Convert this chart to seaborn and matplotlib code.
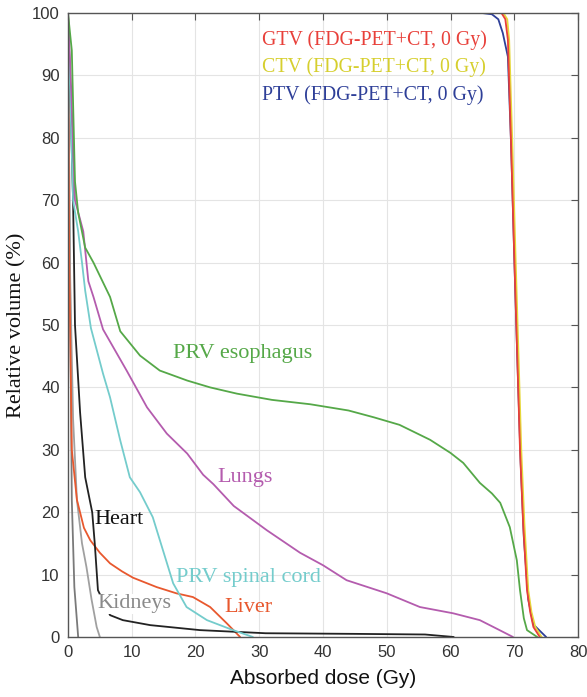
import matplotlib
matplotlib.use("Agg")
import matplotlib.pyplot as plt
import seaborn as sns
import pandas as pd

# dose-volume histogram data (dose in Gy, volume in %)
gtv_dose = [0, 68.0, 68.6, 69.0, 69.5, 70.0, 70.5, 70.9, 71.4, 72.0, 72.5, 73.0, 74.0]
gtv_vol = [100, 100, 99, 95.7, 79, 61, 44, 30, 18, 7.5, 4, 1.6, 0]

ctv_dose = [0, 68.3, 68.9, 69.2, 69.7, 70.2, 70.7, 71.1, 71.6, 72.2, 72.7, 73.3, 74.3]
ctv_vol = [100, 100, 99, 95.7, 79, 61, 44, 30, 18, 7.5, 4, 1.6, 0]

ptv_dose = [0, 65.0, 66.5, 67.5, 68.2, 69.0, 69.5, 70.0, 70.5, 71.0, 71.5, 72.2, 73.0, 75.0]
ptv_vol = [100, 100, 99.8, 99, 96.8, 93, 79, 61, 44, 28, 16, 6, 2, 0]

eso_dose = [0, 0.6, 1.1, 1.6, 2.7, 4, 6.6, 8.2, 11.3, 14.4, 18.7, 22.3, 26.5, 32, 38,
            44, 48, 52, 56.8, 60, 62, 64.6, 66.5, 67.8, 69.3, 70.4, 70.9, 71.5, 72.0, 73.6]
eso_vol = [100, 94, 73, 68, 62.4, 60, 54.5, 49, 45.1, 42.7, 41.1, 40, 39, 38, 37.3,
           36.3, 35.2, 34, 31.6, 29.5, 27.9, 24.7, 23, 21.5, 17.6, 12.3, 7.5, 3, 1.1, 0]

lung_dose = [0, 0.5, 1.1, 2.4, 3.2, 4, 5.5, 9.2, 12.4, 15.5, 18.7, 21.2, 22.8, 26, 31.2,
             36.4, 40, 43.7, 47, 50, 55.2, 60.4, 64.6, 67.5, 69.8]
lung_vol = [100, 88, 70, 65, 57, 54.5, 49.3, 42.7, 36.8, 32.6, 29.4, 26, 24.5, 21, 17.1,
            13.5, 11.5, 9.1, 8, 7, 4.8, 3.8, 2.7, 1.2, 0]

cord_dose = [0, 0.4, 0.8, 1.6, 2.2, 2.7, 3.6, 5.5, 6.6, 8.2, 9.7, 11.3, 13.3, 14.9, 16.5,
             18.6, 21.8, 25.9, 29]
cord_vol = [100, 85, 70, 65, 60, 55.5, 49.5, 42.2, 38.4, 31.5, 25.6, 23.2, 19.2, 13.9, 8.6,
            4.8, 2.7, 1.1, 0]

heart_dose = [0, 0.3, 0.8, 1.1, 1.9, 2.7, 3.8, 4.2, 4.7, 6.6, 8.6, 12.9, 20.7, 31, 45, 56, 60.5]
heart_vol = [100, 90, 70, 50, 36, 25.6, 20, 15, 7.5, 3.5, 2.7, 1.9, 1.1, 0.6, 0.5, 0.4, 0]

kid1_dose = [0, 0.3, 0.6, 1.0, 1.6]
kid1_vol = [100, 60, 22, 8, 0]
kid2_dose = [0, 0.3, 0.8, 1.4, 2.2, 2.9, 3.7, 4.5, 5.0]
kid2_vol = [100, 60, 35, 22, 15, 11.2, 6, 1.6, 0]

liver_dose = [0, 0.2, 0.6, 1.4, 2.5, 3.5, 5, 6.6, 8.5, 10.2, 13.9, 17, 19.6, 22.3, 24.9, 27]
liver_vol = [100, 60, 30, 22, 17.5, 15.5, 13.5, 11.8, 10.5, 9.5, 8.0, 7.0, 6.4, 4.8, 2.2, 0]

series = [
    ("Kidney 1", kid1_dose, kid1_vol, "#7a7a7a"),
    ("Kidney 2", kid2_dose, kid2_vol, "#a0a0a0"),
    ("Liver", liver_dose, liver_vol, "#e8582e"),
    ("Heart", heart_dose, heart_vol, "#222222"),
    ("Cord", cord_dose, cord_vol, "#74cccc"),
    ("Lungs", lung_dose, lung_vol, "#b45cae"),
    ("Esophagus", eso_dose, eso_vol, "#55a848"),
    ("PTV", ptv_dose, ptv_vol, "#2e3f98"),
    ("CTV", ctv_dose, ctv_vol, "#e6d83a"),
    ("GTV", gtv_dose, gtv_vol, "#e8403a"),
]

sns.set_style("whitegrid", {"grid.color": "#e4e4e4", "axes.edgecolor": "#555555"})
plt.rcParams["font.family"] = ["Liberation Sans", "DejaVu Sans"]

fig = plt.figure(figsize=(5.87, 6.97), dpi=100)
ax = fig.add_axes([0.1158, 0.0861, 0.8689, 0.8952])

for name, d, v, c in series:
    df = pd.DataFrame({"dose": d, "vol": v})
    sns.lineplot(data=df, x="dose", y="vol", color=c, lw=1.3, estimator=None,
                 sort=False, ax=ax)

serif = ["Liberation Serif", "DejaVu Serif"]
target_labels = [
    ("GTV (FDG-PET+CT, 0 Gy)", 30.4, 95.7, "#e8403a"),
    ("CTV (FDG-PET+CT, 0 Gy)", 30.4, 91.3, "#d6cf2e"),
    ("PTV (FDG-PET+CT, 0 Gy)", 30.4, 86.9, "#2e3f98"),
]
for txt, x, y, c in target_labels:
    ax.text(x, y, txt, color=c, fontsize=14.3, family=serif, va="center", ha="left")

organ_labels = [
    ("PRV esophagus", 16.5, 45.5, "#55a848"),
    ("Lungs", 23.5, 25.6, "#b45cae"),
    ("Heart", 4.1, 18.8, "#111111"),
    ("PRV spinal cord", 17.0, 9.6, "#74cccc"),
    ("Liver", 24.6, 4.8, "#e8582e"),
]
for txt, x, y, c in organ_labels:
    ax.text(x, y, txt, color=c, fontsize=16, family=serif, va="center", ha="left")
ax.text(4.6, 5.3, "Kidneys", color="#8a8a8a", fontsize=16, family=serif, va="center",
        ha="left", bbox=dict(facecolor="white", edgecolor="none", pad=0.5))

ax.set_xlim(0, 80)
ax.set_ylim(0, 100)
ax.set_xticks(range(0, 81, 10))
ax.set_yticks(range(0, 101, 10))
ax.tick_params(direction="in", length=5, top=True, right=True, labelsize=12,
               colors="#555555", labelcolor="#333333", pad=6)
ax.set_xlabel("Absorbed dose (Gy)", fontsize=15, color="#111111", labelpad=6)
ax.set_ylabel("Relative volume (%)", fontsize=16, family=serif, color="#111111", labelpad=4)
for s in ax.spines.values():
    s.set_linewidth(1.0)

fig.savefig("out.png", dpi=100)
